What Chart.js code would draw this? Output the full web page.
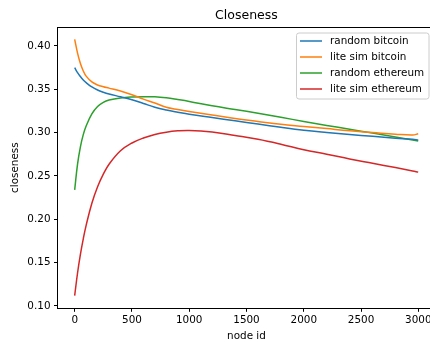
<!DOCTYPE html>
<html>
<head>
<meta charset="utf-8">
<title>Closeness</title>
<script src="https://cdn.jsdelivr.net/npm/chart.js@4.4.1/dist/chart.umd.min.js"></script>
<style>
  html, body { margin: 0; padding: 0; background: #fff; overflow: hidden; }
  #wrap { width: 430px; height: 347px; overflow: hidden; }
</style>
</head>
<body>
<div id="wrap"><canvas id="chart" width="440" height="347"></canvas></div>
<script>
// values
const nodeIds = [0, 25, 50, 75, 100, 150, 200, 250, 300, 400, 500, 600, 700, 800, 900,
  1000, 1200, 1400, 1600, 1800, 2000, 2200, 2400, 2600, 2800, 2950, 2999];

const randomBitcoin = [0.3747, 0.369, 0.3645, 0.3605, 0.3575, 0.3525, 0.349, 0.3465, 0.3445,
  0.3412, 0.3378, 0.3335, 0.3292, 0.326, 0.3234, 0.321, 0.3172, 0.3135, 0.3098, 0.306,
  0.3026, 0.300, 0.2977, 0.2956, 0.2935, 0.2921, 0.2914];

const liteSimBitcoin = [0.4074, 0.3915, 0.3795, 0.371, 0.365, 0.3583, 0.3548, 0.3528, 0.3512,
  0.3478, 0.3435, 0.3385, 0.334, 0.3292, 0.3265, 0.3242, 0.3202, 0.3162, 0.3128, 0.3095,
  0.307, 0.3045, 0.302, 0.300, 0.298, 0.297, 0.2985];

const randomEthereum = [0.2339, 0.2635, 0.2835, 0.2975, 0.3075, 0.3215, 0.330, 0.3348, 0.3374,
  0.3398, 0.3409, 0.3413, 0.3412, 0.340, 0.338, 0.3358, 0.3308, 0.3265, 0.3222, 0.3175,
  0.3128, 0.3082, 0.3037, 0.2993, 0.2948, 0.2914, 0.2903];

const liteSimEthereum = [0.1119, 0.1379, 0.1594, 0.1774, 0.1929, 0.2184, 0.2374, 0.2519, 0.2634,
  0.2789, 0.2879, 0.2937, 0.2978, 0.3004, 0.3019, 0.3024, 0.3005, 0.2965, 0.2922, 0.2865,
  0.280, 0.275, 0.2695, 0.2645, 0.2595, 0.2557, 0.2543];

const seriesNames = ["random bitcoin", "lite sim bitcoin", "random ethereum", "lite sim ethereum"];
const seriesColors = ["#1f77b4", "#ff7f0e", "#2ca02c", "#d62728"];
const seriesValues = [randomBitcoin, liteSimBitcoin, randomEthereum, liteSimEthereum];

const xTicks = [0, 500, 1000, 1500, 2000, 2500, 3000];
const yTicks = [0.10, 0.15, 0.20, 0.25, 0.30, 0.35, 0.40];

const FONT = "DejaVu Sans";

// top spine + matplotlib style legend box
const frameAndLegend = {
  id: "frameAndLegend",
  afterDraw(chart) {
    const { ctx, chartArea: a } = chart;
    ctx.save();
    ctx.strokeStyle = "#000";
    ctx.lineWidth = 1;
    ctx.beginPath();
    ctx.moveTo(a.left, Math.round(a.top) + 0.5);
    ctx.lineTo(a.right, Math.round(a.top) + 0.5);
    ctx.moveTo(Math.round(a.right) + 0.5, a.top);
    ctx.lineTo(Math.round(a.right) + 0.5, a.bottom);
    ctx.stroke();

    const bx = 296.5, by = 33, bw = 132.5, bh = 66;
    ctx.beginPath();
    ctx.roundRect(bx, by, bw, bh, 2.5);
    ctx.fillStyle = "rgba(255,255,255,0.8)";
    ctx.fill();
    ctx.strokeStyle = "#cccccc";
    ctx.stroke();

    ctx.font = "10.4px '" + FONT + "'";
    ctx.textBaseline = "middle";
    ctx.textAlign = "left";
    chart.data.datasets.forEach((ds, i) => {
      const y = by + 8 + i * 16;
      ctx.strokeStyle = ds.borderColor;
      ctx.lineWidth = 1.5;
      ctx.beginPath();
      ctx.moveTo(bx + 3.5, y);
      ctx.lineTo(bx + 25.5, y);
      ctx.stroke();
      ctx.fillStyle = "#000";
      ctx.fillText(ds.label, bx + 33.5, y);
    });
    ctx.restore();
  }
};

new Chart(document.getElementById("chart"), {
  type: "line",
  data: {
    datasets: seriesNames.map((name, i) => ({
      label: name,
      data: nodeIds.map((x, j) => ({ x: x, y: seriesValues[i][j] })),
      borderColor: seriesColors[i],
      borderWidth: 1.5,
      pointRadius: 0,
      fill: false,
      tension: 0.4
    }))
  },
  options: {
    responsive: false,
    animation: false,
    layout: { padding: { left: 0, right: 4.6, top: 0, bottom: 0 } },
    plugins: {
      legend: { display: false },
      tooltip: { enabled: false },
      title: {
        display: true,
        text: "Closeness",
        fullSize: false,
        color: "#000",
        font: { family: FONT, size: 12.5, weight: "normal" },
        padding: { top: 8, bottom: 4 }
      }
    },
    scales: {
      x: {
        type: "linear",
        min: -150,
        max: 3149,
        afterFit: (s) => { s.height = 38.7; },
        afterBuildTicks: (s) => { s.ticks = xTicks.map((v) => ({ value: v })); },
        grid: { display: true, drawOnChartArea: false, tickLength: 3.5, color: "#000" },
        border: { display: true, color: "#000", width: 1 },
        ticks: {
          color: "#000",
          padding: 2,
          maxRotation: 0,
          font: { family: FONT, size: 10.4 },
          callback: (v) => String(v)
        },
        title: {
          display: true,
          text: "node id",
          color: "#000",
          font: { family: FONT, size: 10.4 },
          padding: { top: 5.8 }
        }
      },
      y: {
        min: 0.0972,
        max: 0.4217,
        afterFit: (s) => { s.width = 57.5; },
        afterBuildTicks: (s) => { s.ticks = yTicks.map((v) => ({ value: v })); },
        grid: { display: true, drawOnChartArea: false, tickLength: 3.5, color: "#000" },
        border: { display: true, color: "#000", width: 1 },
        ticks: {
          color: "#000",
          padding: 3.5,
          font: { family: FONT, size: 10.4 },
          callback: (v) => Number(v).toFixed(2)
        },
        title: {
          display: true,
          text: "closeness",
          color: "#000",
          font: { family: FONT, size: 10.4 },
          padding: { top: 8.8 }
        }
      }
    }
  },
  plugins: [frameAndLegend]
});
</script>
</body>
</html>
